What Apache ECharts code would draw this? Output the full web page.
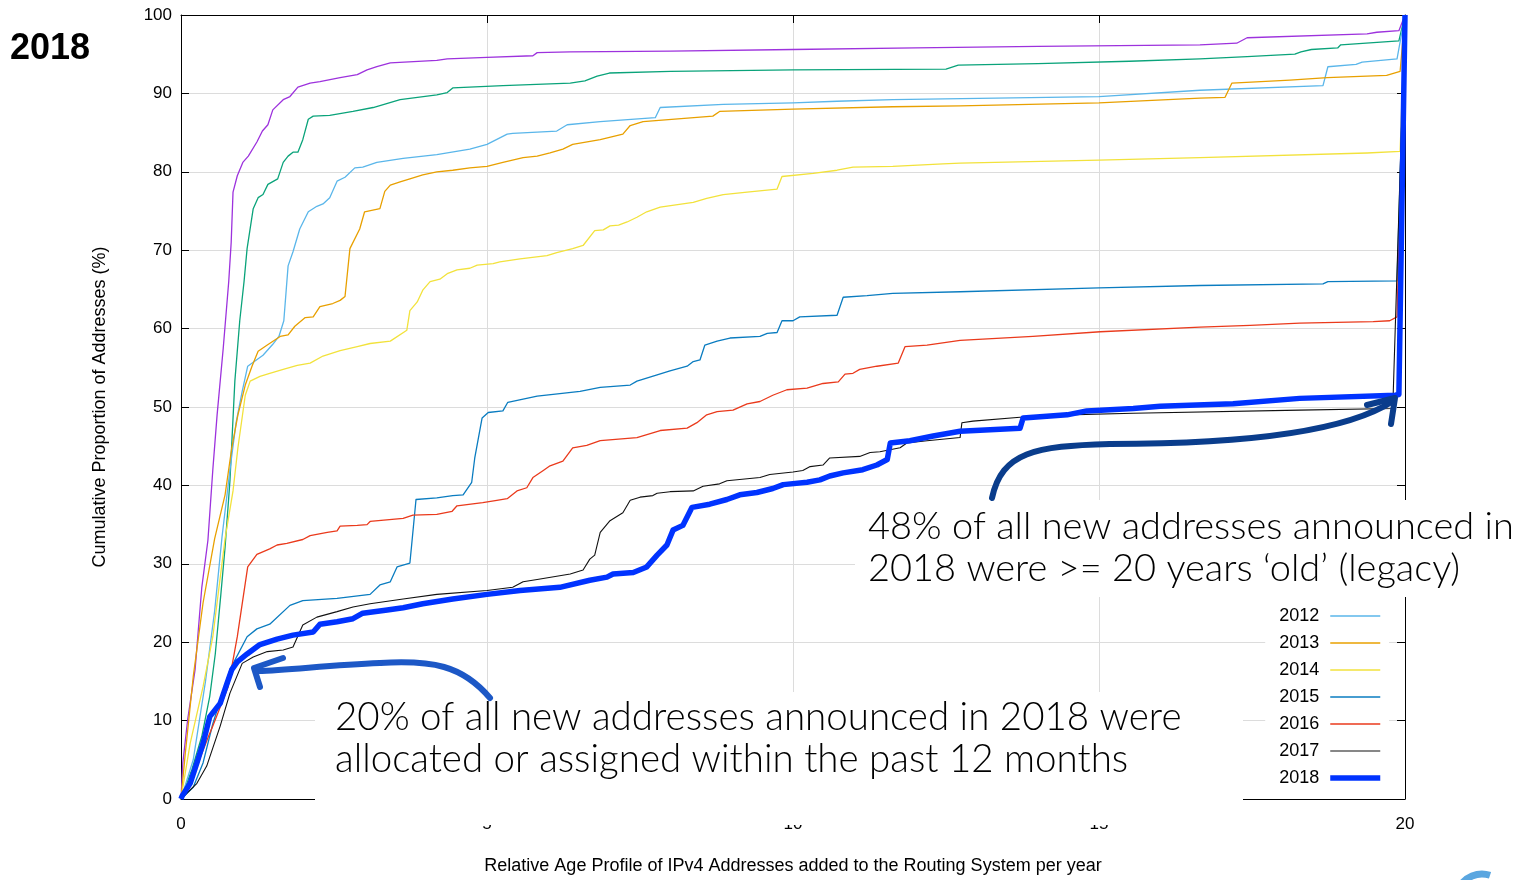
<!DOCTYPE html>
<html>
<head>
<meta charset="utf-8">
<script src="https://cdn.jsdelivr.net/npm/echarts@6/dist/echarts.min.js"></script>
<style>
html,body{margin:0;padding:0;background:#fff;}
#chart{width:1523px;height:880px;}
</style>
</head>
<body>
<div id="chart"></div>
<script>
// ---- data (x = years, y = cumulative %) ----
const years = ['2010','2011','2012','2013','2014','2015','2016','2017','2018'];
const legendYears = ['2012','2013','2014','2015','2016','2017','2018'];
const xTicks = [0,5,10,15,20];
const yTicks = [0,10,20,30,40,50,60,70,80,90,100];

const d2010 = [[0,0],[0.03,4.6],[0.11,10.2],[0.23,16.5],[0.34,27],[0.44,33],[0.52,42],[0.59,49],[0.69,57.5],[0.78,66],[0.82,71],[0.85,77.4],[0.92,79.5],[1.01,81.2],[1.1,82],[1.24,83.8],[1.33,85.2],[1.42,86],[1.5,87.9],[1.67,89.2],[1.78,89.6],[1.91,90.8],[2.11,91.3],[2.27,91.5],[2.6,92],[2.88,92.4],[3.04,93],[3.2,93.4],[3.42,93.9],[4.18,94.2],[4.35,94.4],[5.0,94.6],[5.75,94.8],[5.82,95.2],[6.36,95.3],[8,95.4],[10,95.6],[12,95.8],[14,96],[16.65,96.2],[17.25,96.4],[17.42,97.1],[19.38,97.6],[19.54,97.8],[19.9,98],[20,100]];
const d2011 = [[0,0],[0.18,3.8],[0.34,8],[0.47,13.1],[0.56,18.5],[0.65,26],[0.72,32.1],[0.8,40.6],[0.88,53.3],[0.96,61],[1.03,66],[1.08,70.2],[1.18,75.3],[1.26,76.7],[1.34,77.1],[1.42,78.4],[1.58,79.1],[1.67,81.2],[1.75,82],[1.83,82.5],[1.91,82.5],[1.99,84.1],[2.08,86.7],[2.16,87.1],[2.43,87.2],[2.81,87.7],[3.14,88.2],[3.58,89.2],[4.18,89.8],[4.35,90.1],[4.44,90.7],[5.26,91],[6.36,91.3],[6.6,91.6],[6.8,92.2],[7.0,92.6],[8,92.8],[10,93],[12.5,93.1],[12.7,93.6],[14,93.8],[15.5,94.1],[16.65,94.4],[17.42,94.7],[18.2,95],[18.3,95.3],[18.47,95.6],[18.9,95.8],[18.95,96.2],[19.9,96.7],[20,100]];
const d2012 = [[0,0],[0.2,5],[0.4,15],[0.55,24],[0.67,33.4],[0.8,42],[0.9,48],[1.0,52],[1.09,55.2],[1.34,56.6],[1.5,58],[1.6,59],[1.68,61],[1.72,65],[1.75,68],[1.83,69.8],[1.94,72.7],[2.08,74.9],[2.22,75.6],[2.32,75.9],[2.43,76.7],[2.55,78.8],[2.68,79.3],[2.84,80.5],[2.97,80.6],[3.2,81.2],[3.63,81.7],[4.18,82.2],[4.72,82.9],[5.0,83.5],[5.33,84.8],[5.42,84.9],[6.14,85.2],[6.31,86],[6.85,86.4],[7.75,86.9],[7.83,88.2],[8.86,88.6],[10,88.8],[10.72,89],[11.63,89.2],[15,89.6],[16.65,90.4],[18.66,91],[18.74,93.4],[19.2,93.7],[19.3,94],[19.87,94.4],[20,100]];
const d2013 = [[0,0],[0.07,5.8],[0.2,15.6],[0.36,25],[0.55,33.2],[0.72,38.8],[0.83,44.8],[0.93,49],[1.05,52.8],[1.16,55.2],[1.26,57.1],[1.41,57.9],[1.62,59],[1.75,59.2],[1.86,60.3],[2.03,61.4],[2.16,61.5],[2.27,62.8],[2.48,63.2],[2.6,63.6],[2.68,64.1],[2.76,70.2],[2.92,72.7],[3.0,74.9],[3.25,75.3],[3.33,77.5],[3.42,78.3],[3.58,78.7],[3.74,79.1],[3.95,79.6],[4.18,80],[4.44,80.2],[4.72,80.5],[5.0,80.7],[5.26,81.2],[5.59,81.8],[5.82,82],[6.03,82.4],[6.24,82.9],[6.4,83.5],[6.85,84.1],[7.22,84.8],[7.34,85.9],[7.55,86.4],[8.69,87.1],[8.8,87.7],[10,88],[11.63,88.3],[12.73,88.4],[15,88.8],[16.65,89.4],[17.06,89.5],[17.17,91.3],[18.12,91.7],[18.73,92],[19.7,92.3],[19.92,92.8],[20,100]];
const d2014 = [[0,0],[0.02,1],[0.15,7.1],[0.36,14.3],[0.52,20.7],[0.72,33.2],[0.85,39.3],[0.93,44.8],[1.05,51.5],[1.09,52.4],[1.13,53.3],[1.29,53.9],[1.45,54.3],[1.67,54.8],[1.9,55.3],[2.11,55.6],[2.32,56.5],[2.6,57.2],[2.88,57.7],[3.09,58.1],[3.42,58.4],[3.69,59.8],[3.74,62.3],[3.86,63.4],[3.95,64.9],[4.07,66],[4.23,66.3],[4.35,67],[4.51,67.5],[4.72,67.7],[4.84,68.1],[5.1,68.3],[5.21,68.5],[5.54,68.9],[5.98,69.3],[6.14,69.7],[6.4,70.2],[6.57,70.6],[6.76,72.5],[6.9,72.6],[7.01,73.1],[7.15,73.2],[7.29,73.6],[7.45,74.2],[7.61,74.9],[7.83,75.5],[8.37,76.1],[8.59,76.6],[8.86,77.1],[9.25,77.4],[9.74,77.8],[9.82,79.4],[10.33,79.8],[10.72,80.2],[10.98,80.6],[11.63,80.7],[12.45,81],[12.73,81.1],[15,81.5],[16.65,81.8],[19.38,82.4],[19.92,82.6],[20,100]];
const d2015 = [[0,0],[0.2,1.5],[0.36,4.6],[0.52,9.6],[0.8,16.5],[1.08,20.7],[1.24,21.7],[1.45,22.3],[1.78,24.7],[1.99,25.3],[2.55,25.6],[3.09,26.1],[3.25,27.3],[3.42,27.7],[3.53,29.6],[3.74,30.1],[3.77,32.5],[3.84,38.2],[4.18,38.4],[4.44,38.7],[4.61,38.8],[4.75,40.4],[4.8,43.5],[4.92,48.6],[5.02,49.3],[5.26,49.5],[5.34,50.6],[5.59,51],[5.82,51.4],[6.19,51.7],[6.52,52],[6.85,52.5],[7.34,52.8],[7.45,53.3],[7.78,54.1],[7.99,54.6],[8.27,55.2],[8.37,55.8],[8.48,56],[8.56,57.9],[8.76,58.4],[8.97,58.8],[9.46,59],[9.58,59.4],[9.74,59.5],[9.82,61],[10.0,61],[10.11,61.5],[10.72,61.7],[10.82,64],[11.21,64.2],[11.63,64.5],[12.73,64.7],[15,65.2],[16.65,65.5],[18.66,65.7],[18.74,66],[19.87,66.1],[20,100]];
const d2016 = [[0,0],[0.3,5],[0.45,8],[0.52,9.3],[0.77,14.3],[0.92,20.7],[1.09,29.6],[1.24,31.2],[1.45,31.9],[1.57,32.4],[1.73,32.6],[1.99,33.1],[2.11,33.6],[2.39,34],[2.55,34.2],[2.6,34.8],[2.88,34.9],[3.04,35],[3.09,35.4],[3.63,35.8],[3.79,36.2],[4.18,36.3],[4.43,36.7],[4.51,37.4],[4.93,37.8],[5.16,38.1],[5.33,38.3],[5.49,39.3],[5.65,39.7],[5.75,41],[5.92,41.9],[6.03,42.5],[6.24,43.1],[6.4,44.8],[6.63,45.1],[6.85,45.7],[7.45,46.1],[7.83,47],[8.27,47.3],[8.43,48],[8.59,49],[8.76,49.4],[9.02,49.6],[9.25,50.4],[9.46,50.7],[9.67,51.5],[9.9,52.2],[10.23,52.4],[10.49,53],[10.74,53.2],[10.85,54.2],[10.98,54.3],[11.09,54.8],[11.37,55.2],[11.72,55.6],[11.83,57.7],[12.19,57.9],[12.73,58.5],[13.92,59],[15.02,59.6],[16.65,60.2],[17.47,60.4],[18.28,60.7],[19.48,60.9],[19.75,61],[19.87,61.5],[20,100]];
const d2017 = [[0,0],[0.26,2],[0.42,4.2],[0.64,9.3],[0.8,13.5],[1.0,17.3],[1.18,18.1],[1.41,18.8],[1.67,19],[1.83,19.4],[1.99,22.2],[2.22,23.2],[2.55,23.9],[2.81,24.5],[3.09,24.9],[3.63,25.5],[4.18,26.1],[5.0,26.6],[5.42,27],[5.59,27.7],[5.82,28],[6.36,28.7],[6.57,29.2],[6.68,30.6],[6.76,31.1],[6.85,34],[7.01,35.5],[7.22,36.5],[7.34,38.1],[7.5,38.5],[7.71,38.7],[7.78,39],[7.99,39.2],[8.37,39.3],[8.53,39.9],[8.8,40.2],[8.92,40.6],[9.46,41],[9.62,41.4],[10,41.7],[10.16,41.9],[10.28,42.4],[10.49,42.6],[10.6,43.5],[11.09,43.7],[11.26,44.2],[11.42,44.3],[11.75,44.8],[11.86,45.4],[12.19,45.7],[12.73,46.1],[12.76,48],[12.94,48.2],[13.71,48.7],[14.48,49],[15.56,49.2],[18.28,49.6],[19.8,49.8],[20,100]];
const d2018 = [[0,0],[0.02,0.4],[0.15,2],[0.26,4.6],[0.36,7.1],[0.47,10.5],[0.64,12.2],[0.75,14.7],[0.83,16.5],[0.92,17.5],[1.08,18.5],[1.29,19.7],[1.57,20.4],[1.83,20.9],[2.16,21.3],[2.27,22.3],[2.55,22.6],[2.81,23],[2.97,23.7],[3.37,24.1],[3.63,24.4],[3.95,24.9],[4.44,25.5],[5.0,26.1],[5.54,26.6],[6.19,27],[6.68,27.9],[6.96,28.3],[7.06,28.7],[7.39,28.9],[7.61,29.6],[7.78,31.1],[7.94,32.4],[8.04,34.3],[8.2,34.9],[8.35,37.2],[8.64,37.6],[8.92,38.2],[9.13,38.8],[9.41,39.1],[9.67,39.6],[9.84,40.1],[10.23,40.4],[10.44,40.7],[10.6,41.2],[10.82,41.6],[11.14,42],[11.37,42.6],[11.54,43.3],[11.59,45.4],[11.91,45.7],[12.29,46.3],[12.73,46.9],[13.71,47.3],[13.76,48.6],[14.48,49],[14.8,49.5],[15.56,49.8],[16.0,50.1],[17.19,50.4],[18.28,51.1],[19.84,51.5],[19.9,51.6],[20,100]];

const seriesData = [d2010,d2011,d2012,d2013,d2014,d2015,d2016,d2017,d2018];
const colors = ['#9d32dd','#0aa37a','#5ab6ea','#e8a000','#f2e23c','#0a7cc0','#ea3a1c','#111111','#0033ff'];
const widths = [1.3,1.3,1.3,1.3,1.3,1.3,1.3,1.1,5.5];

const chart = echarts.init(document.getElementById('chart'), null, {renderer:'canvas'});
const FONT = 'Liberation Sans, Arial, sans-serif';
const HAND = 'Lato, sans-serif';

const series = years.map((y,i)=>({
  name: y, type:'line', data: seriesData[i], showSymbol:false, symbol:'none',
  lineStyle:{color:colors[i], width:widths[i], join:'round'},
  itemStyle:{color:colors[i]}, z: 2 + i, silent:true, animation:false
}));

const tickStyle = {show:true, inside:true, length:8, lineStyle:{color:'#000', width:1}};
const lineStyleAxis = {show:true, onZero:false, lineStyle:{color:'#000', width:1}};

const option = {
  animation:false,
  backgroundColor:'#fff',
  grid:{left:181, right:118, top:15, bottom:77, containLabel:false},
  legend:{
    data: legendYears, orient:'vertical', right:134, top:601, align:'right',
    itemWidth:50, itemHeight:14, itemGap:9,
    textStyle:{fontSize:18, fontFamily:FONT, color:'#000', padding:[0,6,0,0]},
    itemStyle:{opacity:0, borderWidth:0},
    lineStyle:{width:'inherit'},
    backgroundColor:'#fff', padding:[6,6,6,14], selectedMode:false, z:50
  },
  xAxis:[
    {type:'value', min:xTicks[0], max:xTicks[xTicks.length-1], interval:5, position:'bottom',
      axisLine:lineStyleAxis, axisTick:tickStyle,
      axisLabel:{fontSize:17, fontFamily:FONT, color:'#000', margin:17},
      splitLine:{show:true, lineStyle:{color:'#dcdcdc', width:1}},
      name:'Relative Age Profile of IPv4 Addresses added to the Routing System per year',
      nameLocation:'middle', nameGap:58, nameTextStyle:{fontSize:18, fontFamily:FONT, color:'#000'}
    },
    {type:'value', min:0, max:20, interval:5, position:'top',
      axisLine:lineStyleAxis, axisTick:tickStyle,
      axisLabel:{show:false}, splitLine:{show:false}}
  ],
  yAxis:[
    {type:'value', min:yTicks[0], max:yTicks[yTicks.length-1], interval:10, position:'left',
      axisLine:lineStyleAxis, axisTick:tickStyle,
      axisLabel:{fontSize:17, fontFamily:FONT, color:'#000', margin:9},
      splitLine:{show:true, lineStyle:{color:'#dcdcdc', width:1}},
      name:'Cumulative Proportion of Addresses (%)', nameLocation:'middle', nameGap:72,
      nameTextStyle:{fontSize:18, fontFamily:FONT, color:'#000'}
    },
    {type:'value', min:0, max:100, interval:10, position:'right',
      axisLine:lineStyleAxis, axisTick:tickStyle,
      axisLabel:{show:false}, splitLine:{show:false}}
  ],
  series: series,
  graphic:[
    {type:'text', left:10, top:31, z:200, style:{text:'2018', font:'bold 36px '+FONT, fill:'#000'}},
    // annotation boxes
    {type:'rect', shape:{x:315, y:692, width:928, height:133}, style:{fill:'#fff'}, z:100},
    {type:'rect', shape:{x:855, y:500, width:668, height:97}, style:{fill:'#fff'}, z:100},
    // annotation texts
    {type:'text', x:335, y:718, z:120, style:{text:'20% of all new addresses announced in 2018 were', font:'300 38.5px '+HAND, fill:'#000', textVerticalAlign:'middle'}},
    {type:'text', x:335, y:760, z:120, style:{text:'allocated or assigned within the past 12 months', font:'300 38.5px '+HAND, fill:'#000', textVerticalAlign:'middle'}},
    {type:'text', x:868, y:527, z:120, style:{text:'48% of all new addresses announced in', font:'300 38px '+HAND, fill:'#000', textVerticalAlign:'middle'}},
    {type:'text', x:868, y:569, z:120, style:{text:'2018 were >= 20 years \u2018old\u2019 (legacy)', font:'300 38px '+HAND, fill:'#000', textVerticalAlign:'middle'}},
    // arrow 1 (blue)
    {type:'bezierCurve', z:130, shape:{x1:490, y1:698, cpx1:462, cpy1:665, cpx2:432, cpy2:660, x2:380, y2:663},
      style:{stroke:'#1d58c6', lineWidth:6, fill:null, lineCap:'round'}},
    {type:'bezierCurve', z:130, shape:{x1:380, y1:663, cpx1:330, cpy1:665, cpx2:290, cpy2:670, x2:258, y2:671},
      style:{stroke:'#1d58c6', lineWidth:6, fill:null, lineCap:'round'}},
    {type:'polyline', z:130, shape:{points:[[283,658],[254,668],[260,687]]},
      style:{stroke:'#1d58c6', lineWidth:6, fill:null, lineCap:'round', lineJoin:'round'}},
    // arrow 2 (navy)
    {type:'bezierCurve', z:130, shape:{x1:992, y1:498, cpx1:1002, cpy1:452, cpx2:1035, cpy2:446, x2:1110, y2:444},
      style:{stroke:'#0a3d8c', lineWidth:6, fill:null, lineCap:'round'}},
    {type:'bezierCurve', z:130, shape:{x1:1110, y1:444, cpx1:1220, cpy1:444, cpx2:1340, cpy2:436, x2:1393, y2:401},
      style:{stroke:'#0a3d8c', lineWidth:6, fill:null, lineCap:'round'}},
    {type:'polyline', z:130, shape:{points:[[1367,405],[1395,398],[1391,424]]},
      style:{stroke:'#0a3d8c', lineWidth:6, fill:null, lineCap:'round', lineJoin:'round'}},
    // logo fragment
    {type:'arc', z:130, shape:{cx:1482, cy:900, r:26, startAngle:Math.PI*1.15, endAngle:Math.PI*1.6},
      style:{stroke:'#5aa6e0', lineWidth:7, fill:null}}
  ]
};
chart.setOption(option);
</script>
</body>
</html>
